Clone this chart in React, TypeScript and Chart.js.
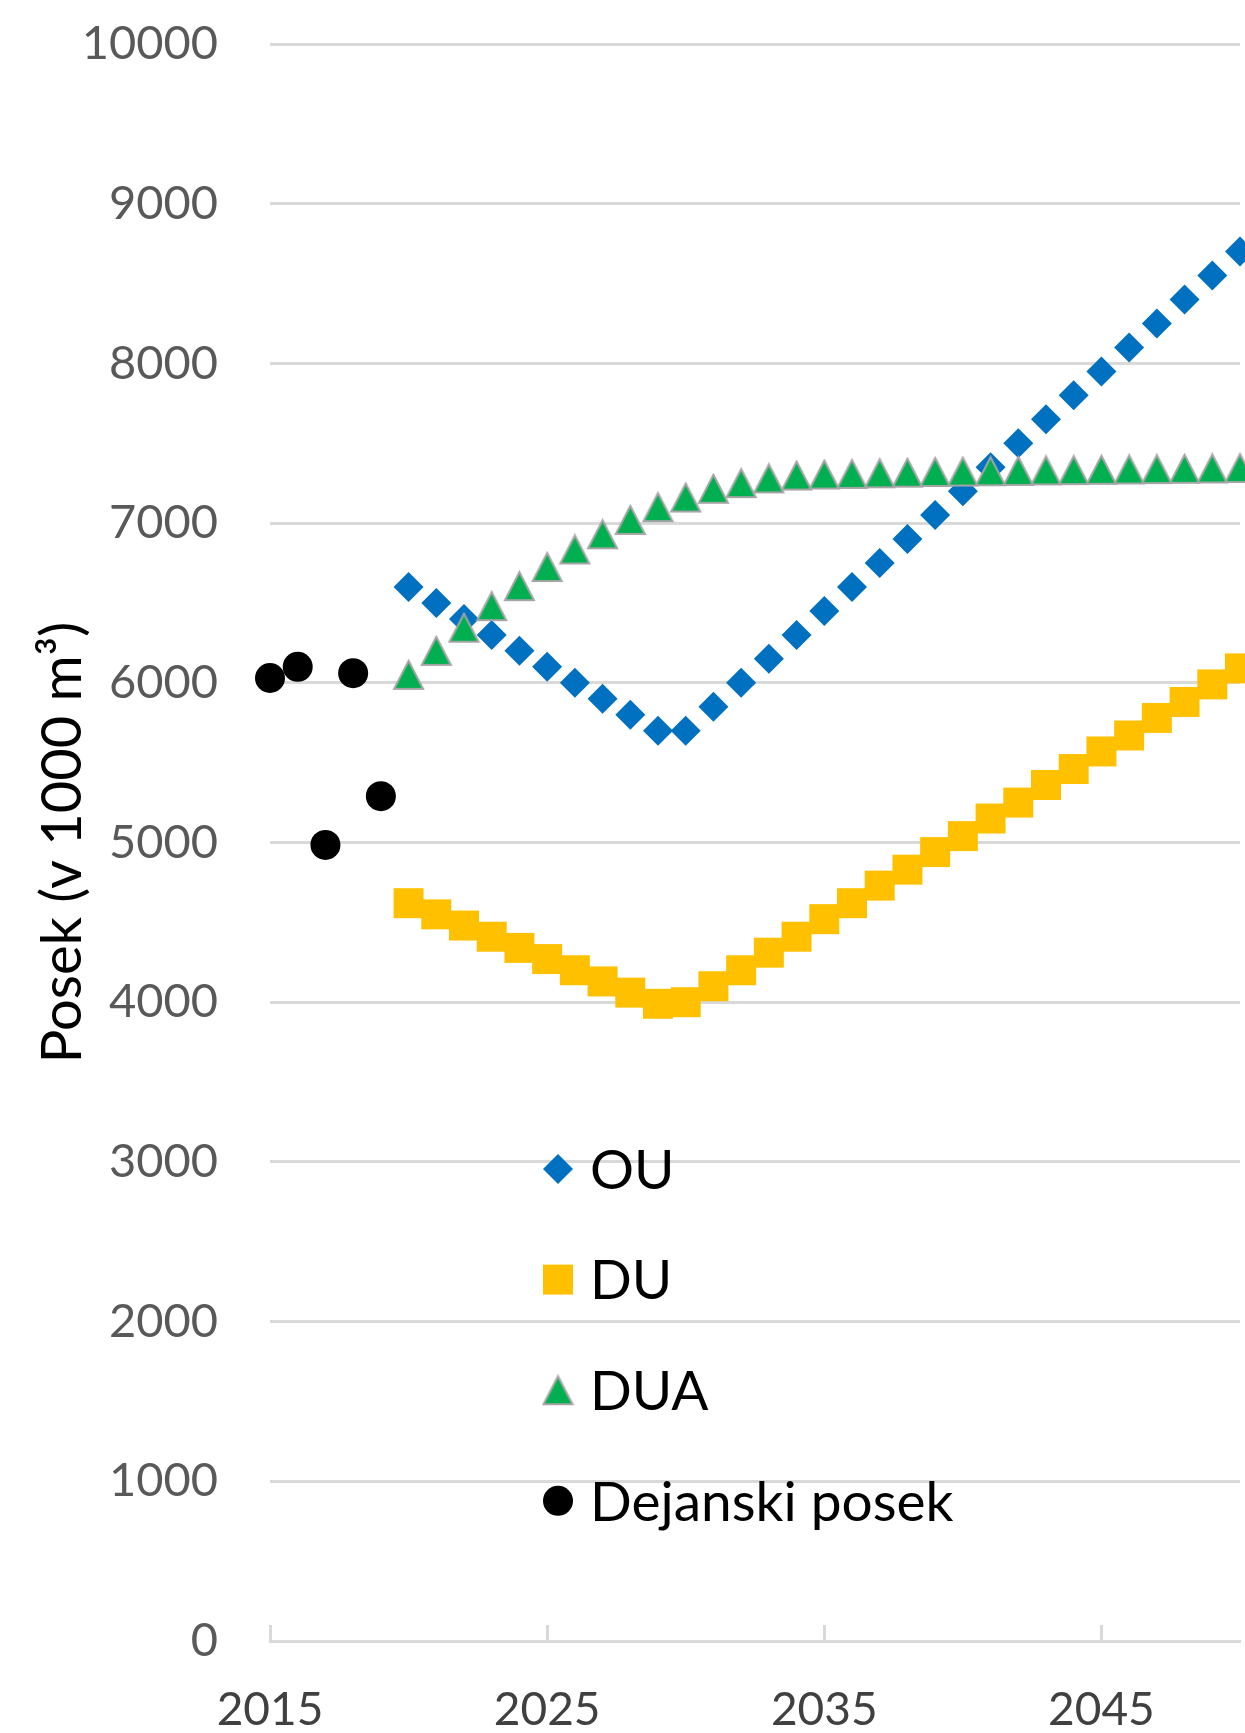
import React, { useEffect, useRef } from 'react';
import { Chart, registerables } from 'chart.js';
import { drawPoint } from 'chart.js/helpers';

Chart.register(...registerables);

// ---- data ----
const xTickValues = [2015, 2025, 2035, 2045];
const actualYears = [2015, 2016, 2017, 2018, 2019];
const actualValues = [6030, 6100, 4985, 6060, 5290];
const projYears = [
  2020, 2021, 2022, 2023, 2024, 2025, 2026, 2027, 2028, 2029, 2030,
  2031, 2032, 2033, 2034, 2035, 2036, 2037, 2038, 2039, 2040,
  2041, 2042, 2043, 2044, 2045, 2046, 2047, 2048, 2049, 2050,
];
const ouValues = [
  6600, 6500, 6400, 6300, 6200, 6100, 6000, 5900, 5800, 5700, 5700,
  5850, 6000, 6150, 6300, 6450, 6600, 6750, 6900, 7050, 7200,
  7350, 7500, 7650, 7800, 7950, 8100, 8250, 8400, 8550, 8700,
];
const duValues = [
  4620, 4550, 4480, 4410, 4340, 4270, 4200, 4130, 4060, 3990, 4000,
  4100, 4200, 4310, 4410, 4520, 4620, 4730, 4830, 4940, 5040,
  5150, 5250, 5360, 5460, 5570, 5670, 5780, 5880, 5990, 6090,
];
const duaValues = [
  6050, 6200, 6345, 6480, 6605, 6725, 6835, 6930, 7020, 7100, 7160,
  7215, 7250, 7280, 7298, 7304, 7308, 7312, 7316, 7320, 7323,
  7325, 7327, 7330, 7332, 7334, 7336, 7338, 7340, 7342, 7345,
];
const seriesLabels = ['OU', 'DU', 'DUA', 'Dejanski posek'];
const yTitle = 'Posek (v 1000 m³)';

const FONT = 'Lato';

function makeTriangle(w: number, h: number, fill: string, stroke: string, lw: number) {
  const c = document.createElement('canvas');
  c.width = w;
  c.height = h;
  const g = c.getContext('2d')!;
  g.beginPath();
  g.moveTo(w / 2, lw);
  g.lineTo(w - lw, h - lw);
  g.lineTo(lw, h - lw);
  g.closePath();
  g.fillStyle = fill;
  g.fill();
  g.lineWidth = lw;
  g.strokeStyle = stroke;
  g.lineJoin = 'miter';
  g.stroke();
  return c;
}

const innerTicksPlugin = {
  id: 'innerTicks',
  beforeDatasetsDraw(chart: any) {
    const { ctx, chartArea, scales } = chart;
    const x = scales.x;
    ctx.save();
    ctx.strokeStyle = '#D9D9D9';
    ctx.lineWidth = 3;
    x.ticks.forEach((t: any) => {
      const px = Math.round(x.getPixelForValue(t.value)) + 0.5;
      ctx.beginPath();
      ctx.moveTo(px, chartArea.bottom);
      ctx.lineTo(px, chartArea.bottom - 16);
      ctx.stroke();
    });
    ctx.restore();
  },
};

const legendPlugin = {
  id: 'customLegend',
  afterDraw(chart: any, _args: any, opts: any) {
    const { ctx, chartArea } = chart;
    const mx = chartArea.left + opts.markerX;
    const tx = chartArea.left + opts.textX;
    ctx.save();
    ctx.font = `${opts.fontSize}px ${FONT}`;
    ctx.textBaseline = 'alphabetic';
    ctx.textAlign = 'left';
    chart.data.datasets.forEach((ds: any, i: number) => {
      const y = chartArea.top + opts.firstRow + i * opts.rowGap;
      ctx.save();
      ctx.fillStyle = ds.backgroundColor;
      ctx.strokeStyle = ds.borderColor;
      ctx.lineWidth = ds.borderWidth;
      drawPoint(ctx, { pointStyle: ds.pointStyle, radius: ds.pointRadius, rotation: 0, borderWidth: ds.borderWidth }, mx, y);
      ctx.restore();
      ctx.fillStyle = '#000000';
      ctx.fillText(ds.label, tx, y + opts.fontSize * 0.36);
    });
    ctx.restore();
  },
};

export default function App() {
  const ref = useRef<HTMLCanvasElement>(null);
  useEffect(() => {
    if (!ref.current) return;
    const tri = makeTriangle(33, 32, '#00B050', '#A5A5A5', 2);
    const chart = new Chart(ref.current, {
      type: 'scatter',
      data: {
        datasets: [
          {
            label: seriesLabels[0],
            data: projYears.map((x, i) => ({ x, y: ouValues[i] })),
            pointStyle: 'rectRot',
            pointRadius: 15,
            backgroundColor: '#0070C0',
            borderColor: '#0070C0',
            borderWidth: 0,
            order: 4,
            clip: false,
          },
          {
            label: seriesLabels[1],
            data: projYears.map((x, i) => ({ x, y: duValues[i] })),
            pointStyle: 'rect',
            pointRadius: 21.2,
            backgroundColor: '#FFC000',
            borderColor: '#FFC000',
            borderWidth: 0,
            order: 3,
            clip: false,
          },
          {
            label: seriesLabels[2],
            data: projYears.map((x, i) => ({ x, y: duaValues[i] })),
            pointStyle: tri as any,
            pointRadius: 16,
            backgroundColor: '#00B050',
            borderColor: '#A5A5A5',
            borderWidth: 0,
            order: 2,
            clip: false,
          },
          {
            label: seriesLabels[3],
            data: actualYears.map((x, i) => ({ x, y: actualValues[i] })),
            pointStyle: 'circle',
            pointRadius: 15,
            backgroundColor: '#000000',
            borderColor: '#000000',
            borderWidth: 0,
            order: 1,
            clip: false,
          },
        ],
      },
      options: {
        animation: false,
        responsive: false,
        maintainAspectRatio: false,
        events: [],
        layout: { autoPadding: false, padding: { top: 44, right: 5, left: 0, bottom: 0 } },
        plugins: {
          legend: { display: false },
          tooltip: { enabled: false },
          customLegend: { markerX: 288, textX: 320, firstRow: 1125, rowGap: 110.6, fontSize: 55 },
        } as any,
        scales: {
          x: {
            type: 'linear',
            min: 2015,
            max: 2050,
            afterBuildTicks: (scale: any) => {
              scale.ticks = xTickValues.map((value) => ({ value }));
            },
            afterFit: (scale: any) => {
              scale.height = 92;
              scale.paddingLeft = 0;
              scale.paddingRight = 0;
            },
            grid: { display: true, drawOnChartArea: false, drawTicks: false },
            border: { display: true, color: '#D9D9D9', width: 3 },
            ticks: {
              autoSkip: false,
              maxRotation: 0,
              padding: 42,
              color: '#404040',
              font: { family: FONT, size: 46 },
              callback: (v: any) => String(v),
            },
          },
          y: {
            type: 'linear',
            min: 0,
            max: 10000,
            afterFit: (scale: any) => {
              scale.width = 270;
              scale.paddingTop = 0;
              scale.paddingBottom = 0;
            },
            grid: { color: '#D9D9D9', lineWidth: 3, drawTicks: false },
            border: { display: false },
            ticks: {
              stepSize: 1000,
              padding: 52,
              color: '#595959',
              font: { family: FONT, size: 47 },
              callback: (v: any) => String(v),
            },
            title: {
              display: true,
              text: yTitle,
              color: '#000000',
              font: { family: FONT, size: 56 },
              padding: { top: 29, bottom: 0 },
            },
          },
        },
      },
      plugins: [innerTicksPlugin, legendPlugin],
    });
    return () => chart.destroy();
  }, []);
  return (
    <div style={{ position: 'absolute', left: 0, top: 0, width: 1245, height: 1733, background: '#fff' }}>
      <canvas ref={ref} width={1245} height={1733} />
    </div>
  );
}
